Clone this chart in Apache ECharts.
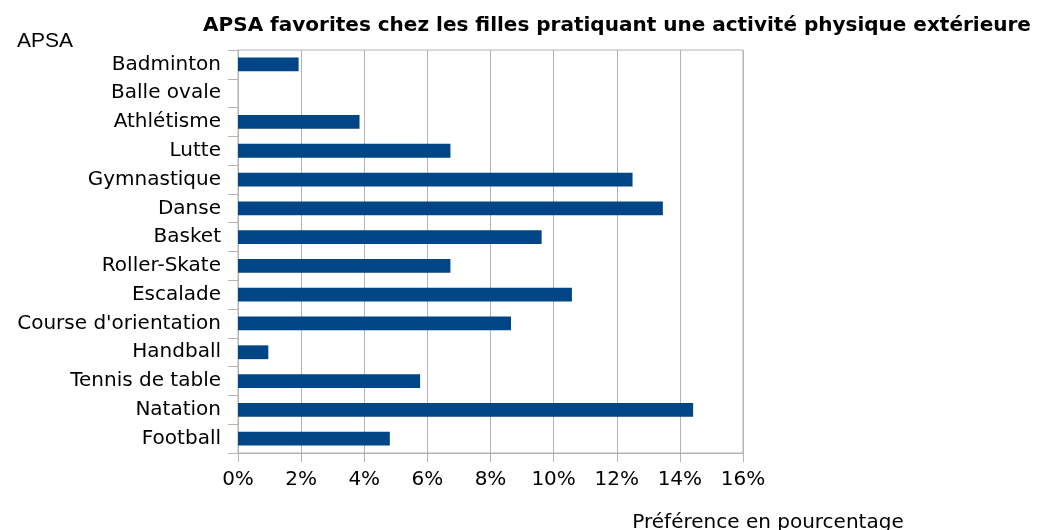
<!DOCTYPE html>
<html><head><meta charset="utf-8">
<script src="https://cdn.jsdelivr.net/npm/echarts@6/dist/echarts.min.js"></script>
<style>html,body{margin:0;padding:0;background:#fff}#c{width:1037px;height:530px}</style>
</head><body><div id="c"></div>
<script>
const categories = ["Badminton","Balle ovale","Athlétisme","Lutte","Gymnastique","Danse","Basket","Roller-Skate","Escalade","Course d'orientation","Handball","Tennis de table","Natation","Football"];
const values = [1.92,0,3.85,6.73,12.5,13.46,9.62,6.73,10.58,8.65,0.96,5.77,14.42,4.81];
const xTicks = [0,2,4,6,8,10,12,14,16];
const titleText = "APSA favorites chez les filles pratiquant une activité physique extérieure";
const yName = "APSA";
const xName = "Préférence en pourcentage";

const FONT = "DejaVu Sans";
const chart = echarts.init(document.getElementById('c'));
chart.setOption({
  animation:false,
  title:[
    {text:titleText,left:612,top:11,textAlign:'center',textStyle:{fontFamily:FONT,fontSize:20,fontWeight:'bold',color:'#000'}},
    {text:yName,left:12,top:26,textStyle:{fontFamily:"Liberation Sans",fontSize:21,fontWeight:'normal',color:'#000'}},
    {text:xName,left:763,top:508,textAlign:'center',textStyle:{fontFamily:FONT,fontSize:20,fontWeight:'normal',color:'#000'}}
  ],
  grid:{left:238,right:294,top:50,bottom:77,show:true,borderColor:'#b3b3b3',borderWidth:1},
  xAxis:{type:'value',min:xTicks[0],max:xTicks[xTicks.length-1],interval:2,
    axisLine:{show:true,lineStyle:{color:'#b3b3b3'}},
    axisTick:{show:true,length:9,lineStyle:{color:'#b3b3b3'}},
    splitLine:{show:true,lineStyle:{color:'#b3b3b3',width:1}},
    axisLabel:{formatter:'{value}%',fontFamily:FONT,fontSize:20,color:'#000',margin:17}},
  yAxis:{type:'category',data:categories,inverse:true,
    axisLine:{show:true,lineStyle:{color:'#b3b3b3'}},
    axisTick:{show:true,length:10,lineStyle:{color:'#b3b3b3'}},
    axisLabel:{fontFamily:FONT,fontSize:20,color:'#000',margin:17}},
  series:[{type:'bar',data:values,barWidth:'48%',itemStyle:{color:'#004586'}}]
});
</script></body></html>
